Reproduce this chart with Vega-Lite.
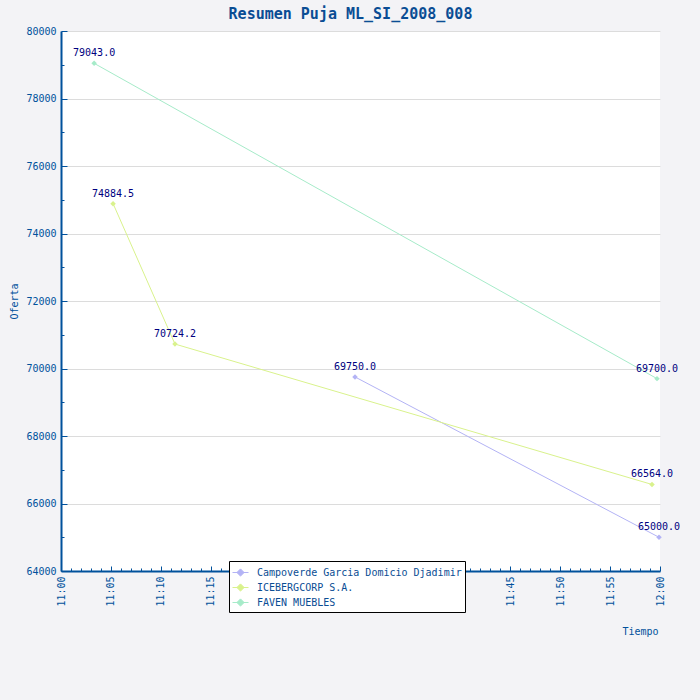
{
  "$schema": "https://vega.github.io/schema/vega-lite/v6.json",
  "autosize": {"type": "none"},
  "width": 599,
  "height": 540,
  "padding": {"left": 61, "top": 31, "right": 40, "bottom": 129},
  "background": "#f3f3f6",
  "title": {
    "text": "Resumen Puja ML_SI_2008_008",
    "font": "DejaVu Sans Mono",
    "fontSize": 15,
    "fontWeight": "bold",
    "color": "#0a4d94",
    "anchor": "middle",
    "dx": -10,
    "offset": 4
  },
  "data": {
    "values": [
      {"postor": "Campoverde Garcia Domicio Djadimir", "tiempo": "2008-01-01T11:29:27", "oferta": 69750.0},
      {"postor": "Campoverde Garcia Domicio Djadimir", "tiempo": "2008-01-01T11:59:54", "oferta": 65000.0},
      {"postor": "ICEBERGCORP S.A.", "tiempo": "2008-01-01T11:05:13", "oferta": 74884.5},
      {"postor": "ICEBERGCORP S.A.", "tiempo": "2008-01-01T11:11:25", "oferta": 70724.2},
      {"postor": "ICEBERGCORP S.A.", "tiempo": "2008-01-01T11:59:12", "oferta": 66564.0},
      {"postor": "FAVEN MUEBLES", "tiempo": "2008-01-01T11:03:19", "oferta": 79043.0},
      {"postor": "FAVEN MUEBLES", "tiempo": "2008-01-01T11:59:42", "oferta": 69700.0}
    ]
  },
  "encoding": {
    "x": {
      "field": "tiempo",
      "type": "temporal",
      "title": "Tiempo",
      "scale": {
        "domain": [
          {"year": 2008, "month": 1, "date": 1, "hours": 11},
          {"year": 2008, "month": 1, "date": 1, "hours": 12}
        ],
        "nice": false
      },
      "axis": {
        "values": [
          {"year": 2008, "month": 1, "date": 1, "hours": 11, "minutes": 0},
          {"year": 2008, "month": 1, "date": 1, "hours": 11, "minutes": 1},
          {"year": 2008, "month": 1, "date": 1, "hours": 11, "minutes": 2},
          {"year": 2008, "month": 1, "date": 1, "hours": 11, "minutes": 3},
          {"year": 2008, "month": 1, "date": 1, "hours": 11, "minutes": 4},
          {"year": 2008, "month": 1, "date": 1, "hours": 11, "minutes": 5},
          {"year": 2008, "month": 1, "date": 1, "hours": 11, "minutes": 6},
          {"year": 2008, "month": 1, "date": 1, "hours": 11, "minutes": 7},
          {"year": 2008, "month": 1, "date": 1, "hours": 11, "minutes": 8},
          {"year": 2008, "month": 1, "date": 1, "hours": 11, "minutes": 9},
          {"year": 2008, "month": 1, "date": 1, "hours": 11, "minutes": 10},
          {"year": 2008, "month": 1, "date": 1, "hours": 11, "minutes": 11},
          {"year": 2008, "month": 1, "date": 1, "hours": 11, "minutes": 12},
          {"year": 2008, "month": 1, "date": 1, "hours": 11, "minutes": 13},
          {"year": 2008, "month": 1, "date": 1, "hours": 11, "minutes": 14},
          {"year": 2008, "month": 1, "date": 1, "hours": 11, "minutes": 15},
          {"year": 2008, "month": 1, "date": 1, "hours": 11, "minutes": 16},
          {"year": 2008, "month": 1, "date": 1, "hours": 11, "minutes": 17},
          {"year": 2008, "month": 1, "date": 1, "hours": 11, "minutes": 18},
          {"year": 2008, "month": 1, "date": 1, "hours": 11, "minutes": 19},
          {"year": 2008, "month": 1, "date": 1, "hours": 11, "minutes": 20},
          {"year": 2008, "month": 1, "date": 1, "hours": 11, "minutes": 21},
          {"year": 2008, "month": 1, "date": 1, "hours": 11, "minutes": 22},
          {"year": 2008, "month": 1, "date": 1, "hours": 11, "minutes": 23},
          {"year": 2008, "month": 1, "date": 1, "hours": 11, "minutes": 24},
          {"year": 2008, "month": 1, "date": 1, "hours": 11, "minutes": 25},
          {"year": 2008, "month": 1, "date": 1, "hours": 11, "minutes": 26},
          {"year": 2008, "month": 1, "date": 1, "hours": 11, "minutes": 27},
          {"year": 2008, "month": 1, "date": 1, "hours": 11, "minutes": 28},
          {"year": 2008, "month": 1, "date": 1, "hours": 11, "minutes": 29},
          {"year": 2008, "month": 1, "date": 1, "hours": 11, "minutes": 30},
          {"year": 2008, "month": 1, "date": 1, "hours": 11, "minutes": 31},
          {"year": 2008, "month": 1, "date": 1, "hours": 11, "minutes": 32},
          {"year": 2008, "month": 1, "date": 1, "hours": 11, "minutes": 33},
          {"year": 2008, "month": 1, "date": 1, "hours": 11, "minutes": 34},
          {"year": 2008, "month": 1, "date": 1, "hours": 11, "minutes": 35},
          {"year": 2008, "month": 1, "date": 1, "hours": 11, "minutes": 36},
          {"year": 2008, "month": 1, "date": 1, "hours": 11, "minutes": 37},
          {"year": 2008, "month": 1, "date": 1, "hours": 11, "minutes": 38},
          {"year": 2008, "month": 1, "date": 1, "hours": 11, "minutes": 39},
          {"year": 2008, "month": 1, "date": 1, "hours": 11, "minutes": 40},
          {"year": 2008, "month": 1, "date": 1, "hours": 11, "minutes": 41},
          {"year": 2008, "month": 1, "date": 1, "hours": 11, "minutes": 42},
          {"year": 2008, "month": 1, "date": 1, "hours": 11, "minutes": 43},
          {"year": 2008, "month": 1, "date": 1, "hours": 11, "minutes": 44},
          {"year": 2008, "month": 1, "date": 1, "hours": 11, "minutes": 45},
          {"year": 2008, "month": 1, "date": 1, "hours": 11, "minutes": 46},
          {"year": 2008, "month": 1, "date": 1, "hours": 11, "minutes": 47},
          {"year": 2008, "month": 1, "date": 1, "hours": 11, "minutes": 48},
          {"year": 2008, "month": 1, "date": 1, "hours": 11, "minutes": 49},
          {"year": 2008, "month": 1, "date": 1, "hours": 11, "minutes": 50},
          {"year": 2008, "month": 1, "date": 1, "hours": 11, "minutes": 51},
          {"year": 2008, "month": 1, "date": 1, "hours": 11, "minutes": 52},
          {"year": 2008, "month": 1, "date": 1, "hours": 11, "minutes": 53},
          {"year": 2008, "month": 1, "date": 1, "hours": 11, "minutes": 54},
          {"year": 2008, "month": 1, "date": 1, "hours": 11, "minutes": 55},
          {"year": 2008, "month": 1, "date": 1, "hours": 11, "minutes": 56},
          {"year": 2008, "month": 1, "date": 1, "hours": 11, "minutes": 57},
          {"year": 2008, "month": 1, "date": 1, "hours": 11, "minutes": 58},
          {"year": 2008, "month": 1, "date": 1, "hours": 11, "minutes": 59},
          {"year": 2008, "month": 1, "date": 1, "hours": 12, "minutes": 0}
        ],
        "format": "%H:%M",
        "labelExpr": "minutes(datum.value) % 5 == 0 ? datum.label : ''",
        "labelAngle": -90,
        "labelOverlap": false,
        "labelFlush": false,
        "labelPadding": 10,
        "tickSize": {"condition": {"test": "minutes(datum.value) % 5 == 0", "value": -5}, "value": -3},
        "grid": false,
        "titleX": 597,
        "titleY": 60,
        "titleAlign": "right",
        "titleBaseline": "middle"
      }
    },
    "y": {
      "field": "oferta",
      "type": "quantitative",
      "title": "Oferta",
      "scale": {"domain": [64000, 80000], "nice": false, "zero": false},
      "axis": {
        "values": [64000, 65000, 66000, 67000, 68000, 69000, 70000, 71000, 72000, 73000, 74000, 75000, 76000, 77000, 78000, 79000, 80000],
        "labelExpr": "datum.value % 2000 == 0 ? format(datum.value, 'd') : ''",
        "labelPadding": 11,
        "tickSize": {"condition": {"test": "datum.value % 2000 == 0", "value": -6}, "value": -3},
        "grid": true,
        "gridOpacity": {"condition": {"test": "datum.value % 2000 == 0 && datum.value > 64000", "value": 1}, "value": 0},
        "titleX": -47,
        "titleY": 270,
        "titleAngle": -90,
        "titleAlign": "center",
        "titleBaseline": "middle"
      }
    }
  },
  "layer": [
    {
      "mark": {"type": "line", "strokeWidth": 1},
      "encoding": {
        "color": {
          "field": "postor",
          "type": "nominal",
          "scale": {
            "domain": ["Campoverde Garcia Domicio Djadimir", "ICEBERGCORP S.A.", "FAVEN MUEBLES"],
            "range": ["#b3b3f5", "#d9f28c", "#a6ebc9"]
          },
          "legend": {
            "title": null,
            "orient": "none",
            "legendX": 168,
            "legendY": 530,
            "fillColor": "white",
            "strokeColor": "black",
            "padding": 3,
            "rowPadding": 0,
            "symbolType": "M-1,0L1,0M0,-0.45L0.45,0L0,0.45L-0.45,0Z",
            "symbolSize": 256,
            "symbolStrokeWidth": 1,
            "labelOffset": 8,
            "labelFont": "DejaVu Sans Mono",
            "labelFontSize": 10,
            "labelColor": "#0a4d94",
            "labelLimit": 400
          }
        }
      }
    },
    {
      "mark": {"type": "point", "shape": "diamond", "filled": true, "size": 30, "opacity": 1},
      "encoding": {
        "color": {"field": "postor", "type": "nominal", "legend": null}
      }
    },
    {
      "mark": {"type": "text", "dy": -7, "align": "center", "baseline": "alphabetic", "font": "DejaVu Sans Mono", "fontSize": 10, "color": "#000080"},
      "encoding": {
        "text": {"field": "oferta", "type": "quantitative", "format": ".1f"}
      }
    }
  ],
  "config": {
    "font": "DejaVu Sans Mono",
    "view": {"fill": "white", "stroke": null},
    "axis": {
      "domainColor": "#00519c",
      "tickColor": "#00519c",
      "labelColor": "#00519c",
      "titleColor": "#00519c",
      "labelFont": "DejaVu Sans Mono",
      "titleFont": "DejaVu Sans Mono",
      "labelFontSize": 10,
      "titleFontSize": 10,
      "titleFontWeight": "normal",
      "gridColor": "#dcdcdc",
      "domainWidth": 2,
      "tickWidth": 1
    }
  }
}
